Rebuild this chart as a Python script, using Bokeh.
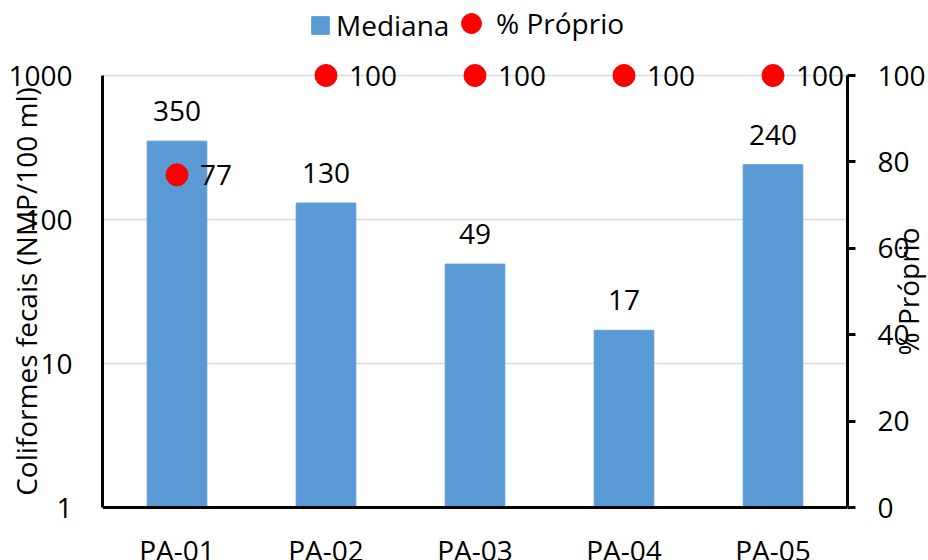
import math
from bokeh.plotting import figure
from bokeh.models import (ColumnDataSource, FactorRange, Range1d, LinearAxis, FixedTicker,
                          Legend, LegendItem, LinearScale)
from bokeh.core.properties import value
from bokeh.embed import file_html
from bokeh.resources import INLINE

# ---- data ----
categories = ["PA-01", "PA-02", "PA-03", "PA-04", "PA-05"]
mediana = [350, 130, 49, 17, 240]
proprio = [77, 100, 100, 100, 100]
left_ticks = [1, 10, 100, 1000]
left_tick_labels = ["1", "10", "100", "1000"]
right_ticks = [0, 20, 40, 60, 80, 100]
left_title = "Coliformes fecais (NMP/100 ml)"
right_title = "% Próprio"

FONT = "Open Sans"
FS = "28px"
BAR = "#5B9BD5"
DOT = "#FF0000"

# ---- layout geometry (pixels) ----
W, H = 928, 560
AXIS_PX = 432          # height of the axes box (1..1000 / 0..100)
HEAD_PX = 75           # free room above the axes box (legend)
FOOT_PX = H - HEAD_PX - AXIS_PX   # room below the axes box (category labels)

# the frame fills the canvas height; the axes are bounded to their ranges
y_lo, y_hi = left_ticks[0], left_ticks[-1]
decades = math.log10(y_hi / y_lo)
y_top = y_hi * 10 ** (decades * HEAD_PX / AXIS_PX)
y_bot = y_lo / 10 ** (decades * FOOT_PX / AXIS_PX)
r_lo, r_hi = right_ticks[0], right_ticks[-1]
r_top = r_hi + (r_hi - r_lo) * HEAD_PX / AXIS_PX
r_bot = r_lo - (r_hi - r_lo) * FOOT_PX / AXIS_PX
r_mid = (r_lo + r_hi) / 2

src = ColumnDataSource(dict(
    cat=categories,
    med=mediana,
    pct=proprio,
    med_lbl=[str(v) for v in mediana],
    pct_lbl=[str(v) for v in proprio],
))

p = figure(width=W, height=H, output_backend="svg", toolbar_location=None,
           x_range=FactorRange(factors=categories, range_padding=0),
           y_axis_type="log", y_range=Range1d(y_bot, y_top),
           min_border_left=102, min_border_right=78, min_border_top=0,
           min_border_bottom=0)
p.outline_line_color = None
p.background_fill_color = "white"
p.border_fill_color = "white"
p.extra_y_ranges = {"right": Range1d(r_bot, r_top)}
p.extra_y_scales = {"right": LinearScale()}

# grid
p.xgrid.grid_line_color = None
p.ygrid.ticker = FixedTicker(ticks=left_ticks)
p.ygrid.grid_line_color = "#d9d9d9"
p.ygrid.grid_line_width = 1.5

# left axis
ya = p.yaxis[0]
ya.bounds = (y_lo, y_hi)
ya.ticker = FixedTicker(ticks=left_ticks)
ya.major_label_overrides = {t: l for t, l in zip(left_ticks, left_tick_labels)}
ya.axis_line_width = 3
ya.axis_line_color = "black"
ya.major_tick_line_color = None
ya.minor_tick_line_color = None
ya.major_tick_out = 0
ya.major_label_standoff = 30
ya.major_label_text_font = FONT
ya.major_label_text_font_size = FS
ya.major_label_text_color = "black"

# x axis (pinned to the bottom of the axes box)
xa = p.xaxis[0]
xa.fixed_location = y_lo
xa.axis_line_width = 3
xa.axis_line_color = "black"
xa.major_tick_line_color = None
xa.major_tick_out = 0
xa.major_label_standoff = 23
xa.major_label_text_font = FONT
xa.major_label_text_font_size = FS
xa.major_label_text_color = "black"

# right axis
ra = LinearAxis(y_range_name="right", ticker=FixedTicker(ticks=right_ticks),
                bounds=(r_lo, r_hi))
ra.axis_line_width = 3
ra.axis_line_color = "black"
ra.major_tick_line_color = "black"
ra.major_tick_line_width = 3
ra.major_tick_out = 8
ra.major_tick_in = 0
ra.minor_tick_line_color = None
ra.major_label_standoff = 22
ra.major_label_text_font = FONT
ra.major_label_text_font_size = FS
ra.major_label_text_color = "black"
p.add_layout(ra, "right")

# bars
bars = p.vbar(x="cat", top="med", bottom=y_lo, width=0.4, source=src,
              fill_color=BAR, line_color=BAR)
p.text(x="cat", y="med", text="med_lbl", source=src, text_align="center",
       text_baseline="alphabetic", y_offset=-30, text_font=value(FONT),
       text_font_size=FS, text_color="black", level="overlay")

# dots
dots = p.scatter(x="cat", y="pct", source=src, size=22, marker="circle",
                 fill_color=DOT, line_color=DOT, y_range_name="right", level="overlay")
p.text(x="cat", y="pct", text="pct_lbl", source=src, text_align="left",
       text_baseline="middle", x_offset=23, text_font=value(FONT),
       text_font_size=FS, text_color="black", y_range_name="right", level="overlay")

# axis titles (outside the frame, reading bottom-to-top, centred on the axes box)
title_kw = dict(angle=math.pi / 2, y_range_name="right", text_align="center",
                text_baseline="alphabetic", text_font=value(FONT),
                text_font_size=FS, text_color="black", level="overlay")
p.text(x=[-0.515], y=[r_mid], text=[left_title], **title_kw)
p.text(x=[5.408], y=[r_mid], text=[right_title], **title_kw)

# legends: one for the bars, one for the dots (screen offsets from frame bottom-left)
leg_kw = dict(orientation="horizontal", padding=0, margin=0, spacing=0,
              border_line_color=None, background_fill_alpha=0,
              label_text_font=FONT, label_text_font_size=FS, label_text_color="black")
leg_bar = Legend(items=[LegendItem(label="Mediana", renderers=[bars])],
                 location=(207, 463 + FOOT_PX), glyph_width=22, glyph_height=22,
                 label_standoff=5, **leg_kw)
leg_dot = Legend(items=[LegendItem(label="% Próprio", renderers=[dots])],
                 location=(344, 459 + FOOT_PX), glyph_width=50, glyph_height=50,
                 label_standoff=0, **leg_kw)
p.add_layout(leg_bar, "center")
p.add_layout(leg_dot, "center")

open("out.html", "w").write(file_html(p, INLINE))
